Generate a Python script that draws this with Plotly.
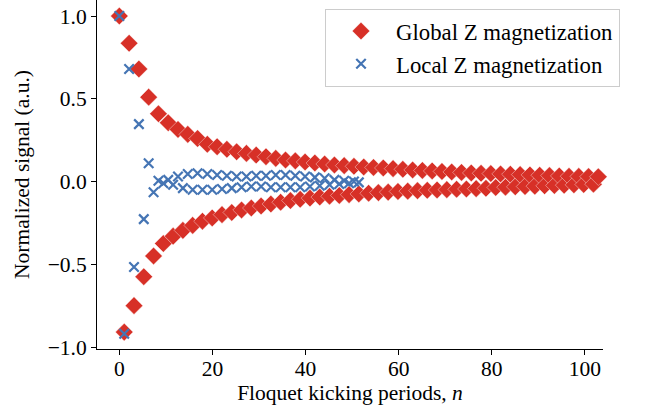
import plotly.graph_objects as go

# Floquet kicking period index (x positions as plotted)
n_global = [round(i * 1.05, 3) for i in range(100)]
n_local = [round(i * 1.05, 3) for i in range(50)]

global_z = [
    1.0, -0.91, 0.836, -0.75, 0.68, -0.575, 0.51, -0.45, 0.41, -0.375,
    0.355, -0.33, 0.315, -0.295, 0.285, -0.265, 0.26, -0.24, 0.225, -0.22,
    0.21, -0.2, 0.195, -0.187, 0.18, -0.172, 0.17, -0.16, 0.16, -0.148,
    0.15, -0.136, 0.14, -0.125, 0.13, -0.115, 0.125, -0.107, 0.118, -0.1,
    0.112, -0.094, 0.106, -0.089, 0.1, -0.084, 0.096, -0.079, 0.092, -0.075,
    0.088, -0.071, 0.085, -0.067, 0.082, -0.064, 0.078, -0.06, 0.074, -0.058,
    0.07, -0.055, 0.067, -0.053, 0.064, -0.051, 0.061, -0.049, 0.058, -0.047,
    0.055, -0.045, 0.052, -0.043, 0.05, -0.041, 0.048, -0.036, 0.046, -0.034,
    0.044, -0.032, 0.042, -0.03, 0.04, -0.028, 0.038, -0.026, 0.036, -0.024,
    0.034, -0.022, 0.032, -0.02, 0.031, -0.018, 0.03, -0.016, 0.029, -0.012,
]

local_z = [
    1.0, -0.92, 0.68, -0.517, 0.347, -0.227, 0.111, -0.065, 0.005, -0.01,
    0.01, -0.02, 0.03, -0.04, 0.045, -0.05, 0.05, -0.05, 0.045, -0.05,
    0.04, -0.045, 0.035, -0.04, 0.03, -0.035, 0.03, -0.03, 0.035, -0.03,
    0.035, -0.035, 0.04, -0.035, 0.04, -0.035, 0.035, -0.035, 0.03, -0.03,
    0.025, -0.025, 0.02, -0.02, 0.01, -0.015, 0.005, -0.01, 0.0, -0.005,
]

x_ticks = [0, 20, 40, 60, 80, 100]
y_ticks = [-1.0, -0.5, 0.0, 0.5, 1.0]

RED = "#d73027"
BLUE = "#4575b4"
FONT = "Liberation Serif"

fig = go.Figure()
fig.add_trace(go.Scatter(
    x=n_global, y=global_z, mode="markers", name="Global Z magnetization",
    marker=dict(symbol="diamond", size=13.5, color=RED,
                line=dict(color="white", width=0.4)),
    cliponaxis=False,
))
fig.add_trace(go.Scatter(
    x=n_local, y=local_z, mode="markers", name="Local Z magnetization",
    marker=dict(symbol="x-thin", size=9.5, color=BLUE,
                line=dict(color=BLUE, width=2.2)),
    cliponaxis=False,
))

axis_common = dict(
    showgrid=False, zeroline=False, showline=True, linecolor="black",
    linewidth=1.1, ticks="outside", ticklen=5, tickwidth=1.1,
    tickcolor="black", mirror=False,
    tickfont=dict(family=FONT, size=21.5, color="black"),
)

fig.update_xaxes(
    range=[-4.8, 103.9], tickvals=x_ticks, ticklabelstandoff=-5,
    title=dict(text="Floquet kicking periods, <i>n</i>",
               font=dict(family=FONT, size=21.5, color="black"), standoff=2),
    **axis_common,
)
fig.update_yaxes(
    range=[-1.012, 1.097], tickvals=y_ticks, tickformat=".1f",
    title=dict(text="Normalized signal (a.u.)",
               font=dict(family=FONT, size=21.5, color="black"), standoff=12),
    **axis_common,
)

fig.update_layout(
    width=652, height=415,
    margin=dict(l=97, r=49, t=0, b=66),
    paper_bgcolor="white", plot_bgcolor="white",
    font=dict(family=FONT, color="black"),
    showlegend=True,
    legend=dict(
        x=1.0336, y=0.975, xanchor="right", yanchor="top",
        bgcolor="rgba(255,255,255,0.8)", bordercolor="#cccccc", borderwidth=1,
        font=dict(family=FONT, size=22.8, color="black"),
        itemwidth=60, tracegroupgap=0,
    ),
)

fig.write_html("out.html")
